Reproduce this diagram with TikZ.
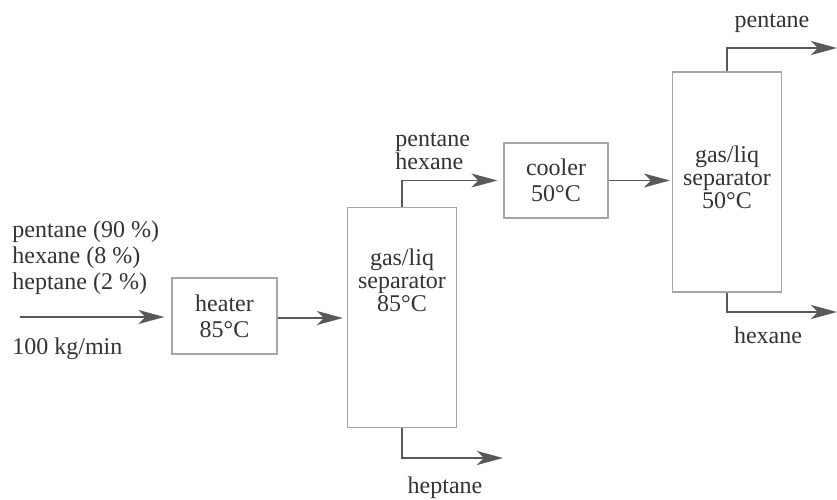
\documentclass[tikz,border=0pt]{standalone}
\usepackage{fontspec}
\setmainfont{Liberation Serif}
\usetikzlibrary{arrows.meta}

\begin{document}
\begin{tikzpicture}[x=0.5pt,y=-0.5pt,unit/.style={shape=rectangle,draw=gray!70,line width=0.6pt,inner sep=0pt},txt/.style={text=black!80,font=\fontsize{12}{13}\selectfont,align=center,inner sep=0pt},txtL/.style={txt,align=left,anchor=west},pipe/.style={draw=black!65,line width=0.9pt},stream/.style={pipe,-{Stealth[length=13pt,width=7pt,inset=3.5pt,fill=black!65]}}]
\def\wunit{52.5pt};
\def\hunit{38pt};
\def\wsep{54.5pt};
\def\hsep{110pt};

\useasboundingbox (0,0) rectangle (837,499);

% units
\node[unit,txt,draw=gray!70,minimum width=\wunit,minimum height=\hunit] (heater) at (224.5,316) {heater\\85°C};
\node[unit,minimum width=\wsep,minimum height=\hsep] (sepA) at (402,317.5) {};
\node[txt,font=\fontsize{12}{11.5}\selectfont] (sepAt) at (402,280) {gas/liq\\separator\\85°C};
\node[unit,txt,draw=gray!70,minimum width=52pt,minimum height=37.5pt] (cooler) at (556,180.5) {cooler\\50°C};
\node[unit,minimum width=\wsep,minimum height=\hsep] (sepB) at (727,182) {};
\node[txt,font=\fontsize{12}{11.5}\selectfont] (sepBt) at (727,177) {gas/liq\\separator\\50°C};

% streams
\coordinate (feed) at (20,317);
\coordinate (pentout) at (837,48);
\coordinate (hexout) at (837,312);
\coordinate (heptout) at (503,458);
\draw[stream,shorten >=3.5pt] (feed) -- (feed -| heater.west);
\draw[stream,shorten >=2pt] (heater.east |- 0,318) -- (sepA.west |- 0,318);
\draw[stream,shorten >=3pt] (sepA.north) |- (cooler.west);
\draw[stream,shorten >=1pt] (cooler.east) -- (cooler.east -| sepB.west);
\draw[stream] (sepB.north) |- (pentout);
\draw[stream] (sepB.south) |- (hexout);
\draw[stream] (sepA.south) |- (heptout);

% labels
\node[txtL] (feedt) at (12,258) {pentane (90 \%)\\hexane (8 \%)\\heptane (2 \%)};
\node[txtL] (ratet) at (12,349) {100 kg/min};
\node[txtL,font=\fontsize{12}{11.5}\selectfont] (topAt) at (395,151) {pentane\\hexane};
\node[txt] (pentt) at (772,23) {pentane};
\node[txt] (hext) at (768,335) {hexane};
\node[txt] (heptt) at (445,488) {heptane};
\end{tikzpicture}
\end{document}
